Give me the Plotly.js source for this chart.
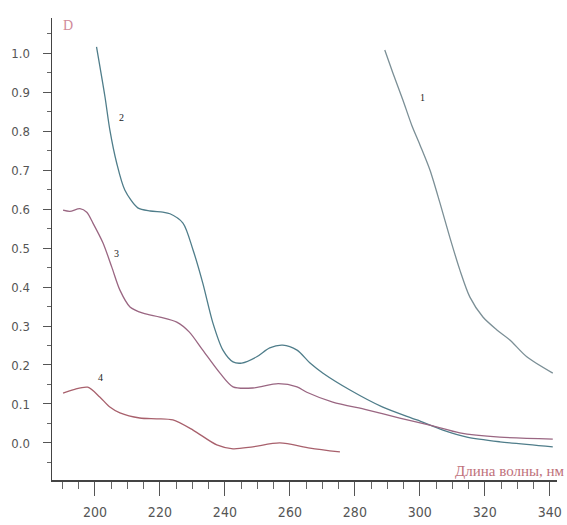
<!DOCTYPE html>
<html>
<head>
<meta charset="utf-8">
<script src="https://cdn.plot.ly/plotly-3.0.1.min.js"></script>
<style>html,body{margin:0;padding:0;background:#fff;}</style>
</head>
<body>
<div id="chart" style="width:567px;height:525px;"></div>
<script>
// Wavelength (nm) and optical density D for each curve
const wl1 = [289.2, 291.7, 294.8, 297.5, 300, 303.1, 306.2, 309.2, 312.3, 315.4, 319.4, 323.7, 327.7, 332.9, 340.9];
const d1  = [1.008, 0.949, 0.879, 0.815, 0.765, 0.7, 0.615, 0.528, 0.444, 0.374, 0.323, 0.29, 0.264, 0.221, 0.179];

const wl2 = [200.5, 203.1, 204.6, 206.7, 209.2, 213.2, 217, 220.9, 223.1, 227.1, 230.2, 233.2, 236.3, 239.4, 242.5, 245.2, 249.8, 253.8, 257.8, 262.2, 266.2, 270.2, 278.5, 288.6, 299.1, 307.1, 314.5, 324.6, 340.9];
const d2  = [1.016, 0.888, 0.803, 0.718, 0.649, 0.603, 0.595, 0.592, 0.588, 0.564, 0.495, 0.41, 0.308, 0.238, 0.208, 0.205, 0.221, 0.244, 0.251, 0.238, 0.205, 0.179, 0.136, 0.092, 0.059, 0.033, 0.015, 0.003, -0.01];

const wl3 = [190.2, 192.3, 195.4, 197.5, 199.4, 202.5, 205.2, 207.7, 210.8, 214.8, 220, 225.2, 229, 233.2, 238.5, 242.5, 248.6, 256.4, 262.2, 265.2, 273.2, 283.7, 293.8, 304, 312.3, 324.6, 340.9];
const d3  = [0.597, 0.594, 0.601, 0.592, 0.564, 0.513, 0.451, 0.392, 0.349, 0.333, 0.323, 0.31, 0.285, 0.238, 0.179, 0.144, 0.141, 0.152, 0.144, 0.13, 0.105, 0.085, 0.064, 0.044, 0.026, 0.015, 0.010];

const wl4 = [190.2, 193.5, 197.8, 201.5, 204.6, 207.7, 213.8, 219, 224, 230.2, 237.5, 242.5, 248.6, 256.9, 266.2, 275.4];
const d4  = [0.128, 0.137, 0.143, 0.118, 0.092, 0.077, 0.064, 0.062, 0.059, 0.033, -0.005, -0.015, -0.01, 0.0, -0.013, -0.023];

const curveLabels = ["1", "2", "3", "4"];
const labelX = [300.9, 208.3, 206.8, 201.8];
const labelY = [0.887, 0.835, 0.487, 0.167];

const xTitle = "Длина волны, нм";
const yTitle = "D";

const colors = ["#7b8f96", "#4f7d8a", "#9a6682", "#a8606c"];
const series = [[wl1, d1], [wl2, d2], [wl3, d3], [wl4, d4]];

const traces = series.map((s, i) => ({
  x: s[0], y: s[1], type: "scatter", mode: "lines",
  line: {color: colors[i], width: 1.3, shape: "spline", smoothing: 0.8},
  hoverinfo: "skip", showlegend: false
}));

const annotations = curveLabels.map((t, i) => ({
  x: labelX[i], y: labelY[i], xref: "x", yref: "y", text: t, showarrow: false,
  font: {family: "Liberation Serif", size: 10, color: "#222"}
}));
annotations.push({
  x: 0, y: 1, xref: "paper", yref: "paper", xanchor: "left", yanchor: "middle",
  xshift: 9, yshift: -7, text: yTitle, showarrow: false,
  font: {family: "Liberation Serif", size: 14, color: "#d08a9a"}
});
annotations.push({
  x: 1, y: 0, xref: "paper", yref: "paper", xanchor: "right", yanchor: "bottom",
  xshift: 10, yshift: -1, text: xTitle, showarrow: false,
  font: {family: "Liberation Serif", size: 15, color: "#c0707a"}
});

const layout = {
  width: 567, height: 525,
  margin: {l: 52, r: 10, t: 18, b: 45},
  paper_bgcolor: "#fff", plot_bgcolor: "#fff",
  showlegend: false,
  xaxis: {
    range: [186.8, 342.2], showgrid: false, zeroline: false,
    showline: true, linecolor: "#444", linewidth: 1.5,
    ticks: "outside", tickmode: "linear", tick0: 200, dtick: 20,
    ticklen: 14, tickcolor: "#555", tickwidth: 1,
    ticklabelstandoff: 5,
    minor: {ticks: "outside", dtick: 5, tick0: 200, ticklen: 7, tickcolor: "#666", showgrid: false},
    tickfont: {family: "DejaVu Sans Condensed, Liberation Sans Narrow, sans-serif", size: 14, color: "#555"}
  },
  yaxis: {
    range: [-0.095, 1.09], showgrid: false, zeroline: false,
    showline: true, linecolor: "#444", linewidth: 1.5,
    ticks: "outside", tickmode: "linear", tick0: 0, dtick: 0.1, tickformat: ".1f",
    ticklen: 8, tickcolor: "#555", tickwidth: 1,
    ticklabelstandoff: 10,
    minor: {ticks: "outside", dtick: 0.05, tick0: 0, ticklen: 4, tickcolor: "#666", showgrid: false},
    tickfont: {family: "DejaVu Sans Condensed, Liberation Sans Narrow, sans-serif", size: 13, color: "#555"}
  },
  annotations: annotations
};

Plotly.newPlot("chart", traces, layout, {displayModeBar: false, staticPlot: true});
</script>
</body>
</html>
